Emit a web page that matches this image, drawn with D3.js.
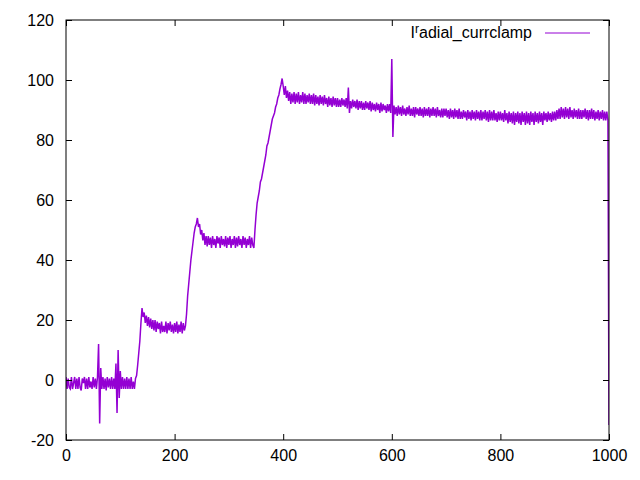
<!DOCTYPE html>
<html>
<head>
<meta charset="utf-8">
<script src="https://cdn.jsdelivr.net/npm/d3@7"></script>
<style>
  body { margin: 0; background: #fff; }
  svg text { font-family: "Liberation Sans", Arial, sans-serif; font-size: 16px; fill: #000; }
</style>
</head>
<body>
<svg id="chart" width="640" height="480"></svg>
<script>
// tick values
const xTicks = [0, 200, 400, 600, 800, 1000];
const yTicks = [-20, 0, 20, 40, 60, 80, 100, 120];
const legendLabel = ["I", "r", "adial_currclamp"];

// I_radial_currclamp, one sample every 2 time units (0 .. 1000)
const current = [
  1,-3,0.5,-2.5,-3,1,-3,-1,1,-3,0.5,-3,1,-2.5,-3.5,0.5,-1,1,-3,0.5,-3,1,-2.5,-0.5,-3,
  1,-2.5,0.5,-3,1,12,-14.5,4,-3,1,-3,0.5,-3.5,1,-2.5,0.5,-3,1,-3,0.5,-3,5.5,-11,10,-6,
  3,-3,1,-3,0.5,-3,1,-3,0.5,-3,1,-3,-0.5,-3,0.5,1.5,5,9,13,19,24,21,22.5,19,21.5,
  18,21,17.5,20.5,17,20,16.5,20,16,19.5,17,19,15.5,19.5,16,18,16,19.5,15.5,19,16.5,19.5,16,18.5,15.5,
  19,16,19.5,15.5,18.5,16,19.5,15.5,19,16.5,18,22,28,32,36,40,43,46,49,51,52,54,51,52,48.5,
  50,46.5,49,45,48,44.5,48,45,47.5,44,48,45,47,44,48,45.5,47.5,44,48,45,47,44.5,48,44,47.5,
  45,48,44,47,45,48,44,47.5,44.5,48,45,47,44,48,45,47.5,44,47,45,48,44,47.5,45,44,50,
  55,59,61,63,66,67,69,71,73,75,78,79,81,83,85,87,88,89,91,92,94,95,97,98.5,100.5,
  98,95,98,94,96.5,93,96,92,95.5,92.5,96,92,95.5,92.5,96,92,95,92.5,96,92,95.5,92,95,92.5,95.5,
  92,95,92,95.5,91.5,95,92,94.5,91.5,95,92,94.5,91.5,95,92,94,91,94.5,91.5,94,91,94.5,91.5,94,91,
  94,91,93.5,91,94,91.5,93.5,91,94,90.5,97.5,89,93,90.5,93.5,91,93,90.5,93.5,90,93,90.5,93,90,92.5,
  90,93,90.5,92.5,90,93,89.5,92.5,90,92,89.5,92.5,90,92,89,92.5,89.5,92,90,91.5,89,92,89.5,92,89,
  107,81,91.5,88.5,91,88,91.5,88.5,91,88,91.5,88.5,90.5,88,91,88.5,91.5,88,90.5,88,91,87.5,91,88.5,90.5,
  88,91,88,90.5,87.5,91,88,90.5,88,91,87.5,90.5,88,91,88,90.5,87.5,91,88,90,87.5,90.5,87.5,90.5,88,
  90.5,87.5,90,87,90.5,87.5,90,87,90.5,87.5,90,87,90.5,87,89.5,87,90,87.5,89.5,86.5,90,87,89.5,86.5,90,
  87,89.5,86.5,90,87,89.5,86.5,90,86.5,89.5,87,90,86.5,89.5,86,90,86.5,89.5,86.5,90,86.5,89,86,89.5,86.5,
  89.5,86.5,89,86,90,86.5,89,85.5,89.5,86,89,85.5,89.5,85,89,86,89.5,85.5,89,85,89.5,86,89,85,89.5,
  85.5,89,85,89.5,86,89,85,89.5,86,89,85.5,89.5,86,89,85,89.5,86.5,89,86,89.5,86.5,89,86,89.5,86.5,
  89.5,86.5,90,87,90.5,87,91,87.5,90.5,87,91,87.5,90.5,87,91,87.5,90,87,90.5,87.5,90,87,90.5,87,90,
  87,90,87.5,90.5,87,90,86.5,90,87,90.5,87,90,86.5,89.5,87,90,86.5,89.5,87,90,86.5,89.5,86.5,89.5,86.5,
  -15
];

const svg = d3.select("#chart");
const mLeft = 66, mRight = 609, mTop = 20, mBottom = 440;

const x = d3.scaleLinear().domain([0, 1000]).range([mLeft, mRight]);
const y = d3.scaleLinear().domain([-20, 120]).range([mBottom, mTop]);
const tickLen = 6;
const fmt = d => String(d);

svg.append("defs").append("clipPath").attr("id", "plotclip")
  .append("rect").attr("x", mLeft).attr("y", mTop)
  .attr("width", mRight - mLeft).attr("height", mBottom - mTop);

// data line
const n = current.length;
const line = d3.line()
  .x((d, i) => x(i * 1000 / (n - 1)))
  .y(d => y(d));

svg.append("path")
  .datum(current)
  .attr("clip-path", "url(#plotclip)")
  .attr("fill", "none")
  .attr("stroke", "#9400d3")
  .attr("stroke-width", 1.5)
  .attr("d", line);

// axes (gnuplot style: ticks inside, mirrored)
const axisStyle = g => {
  g.select(".domain").remove();
  g.selectAll("line").attr("stroke", "#000");
  g.attr("font-size", null).attr("font-family", null);
};

svg.append("g").attr("transform", `translate(${mLeft},0)`)
  .call(d3.axisLeft(y).tickValues(yTicks).tickSize(-tickLen).tickPadding(12).tickFormat(fmt))
  .call(axisStyle);
svg.append("g").attr("transform", `translate(${mRight},0)`)
  .call(d3.axisRight(y).tickValues(yTicks).tickSize(-tickLen).tickFormat(""))
  .call(axisStyle);
svg.append("g").attr("transform", `translate(0,${mBottom})`)
  .call(d3.axisBottom(x).tickValues(xTicks).tickSize(-tickLen).tickPadding(10).tickFormat(fmt))
  .call(axisStyle);
svg.append("g").attr("transform", `translate(0,${mTop})`)
  .call(d3.axisTop(x).tickValues(xTicks).tickSize(-tickLen).tickFormat(""))
  .call(axisStyle);

// border
svg.append("rect")
  .attr("x", mLeft).attr("y", mTop)
  .attr("width", mRight - mLeft).attr("height", mBottom - mTop)
  .attr("fill", "none").attr("stroke", "#000").attr("stroke-width", 1);

// legend
const lg = svg.append("g");
const lt = lg.append("text").attr("x", 532).attr("y", 38).attr("text-anchor", "end");
lt.append("tspan").text(legendLabel[0]);
lt.append("tspan").attr("dy", -5).attr("font-size", "12px").text(legendLabel[1]);
lt.append("tspan").attr("dy", 5).text(legendLabel[2]);
lg.append("line")
  .attr("x1", 545).attr("x2", 590).attr("y1", 33).attr("y2", 33)
  .attr("stroke", "#9400d3").attr("stroke-width", 1);
</script>
</body>
</html>
